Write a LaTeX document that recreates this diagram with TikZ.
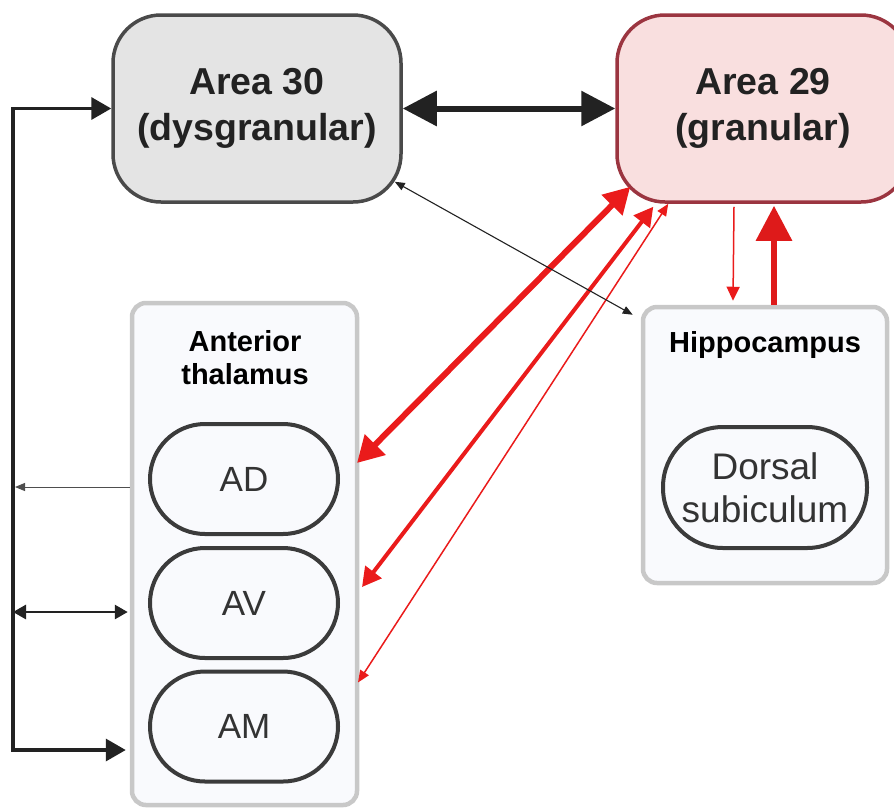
\documentclass[tikz,border=0pt]{standalone}
\usepackage{fontspec}
\setmainfont{Liberation Sans}
\usetikzlibrary{arrows.meta,calc}

\definecolor{grayfill}{HTML}{E4E4E4}
\definecolor{grayline}{HTML}{4A4A4A}
\definecolor{pinkfill}{HTML}{F9DFDF}
\definecolor{pinkline}{HTML}{9B3540}
\definecolor{boxfill}{HTML}{F9FAFD}
\definecolor{boxline}{HTML}{C8C8C8}
\definecolor{pillline}{HTML}{3B3B3B}
\definecolor{pilltext}{HTML}{333333}
\definecolor{ink}{HTML}{222222}
\definecolor{conred}{HTML}{EA1B1B}

\begin{document}
\begin{tikzpicture}[x=1pt,y=-1pt,
  area/.style={rounded corners=48pt, line width=3.5pt, align=center,
    text=ink, font=\fontsize{37.5}{46}\selectfont\bfseries,
    minimum height=187pt},
  group/.style={rounded corners=14pt, fill=boxfill, draw=boxline, line width=4.5pt},
  grouptitle/.style={align=center, text=black, font=\fontsize{29}{33}\selectfont\bfseries},
  pill/.style={draw=pillline, fill=boxfill, line width=4pt, text=pilltext,
    minimum width=188pt, minimum height=110pt, rounded corners=55pt,
    font=\fontsize{35}{43}\selectfont, align=center},
  bigpair/.style={draw=ink, line width=6pt,
    arrows={Triangle[length=34pt,width=34pt]-Triangle[length=34pt,width=34pt]}},
  spineline/.style={draw=ink, line width=3.5pt,
    arrows={Triangle[length=20pt,width=22pt]-Triangle[length=20pt,width=22pt]}},
  thinout/.style={draw=ink!80, line width=1pt, -{Triangle[length=10pt,width=8pt]}},
  pairmid/.style={draw=ink, line width=2.8pt,
    arrows={Triangle[length=13pt,width=14pt]-Triangle[length=13pt,width=14pt]}},
  pairthin/.style={draw=ink, line width=1.1pt,
    arrows={Triangle[length=10pt,width=8pt]-Triangle[length=10pt,width=8pt]}},
  redA/.style={draw=conred, line width=6pt,
    arrows={Triangle[length=26pt,width=28pt]-Triangle[length=26pt,width=28pt]}},
  redB/.style={draw=conred, line width=4pt,
    arrows={Triangle[length=19pt,width=20pt]-Triangle[length=19pt,width=20pt]}},
  redC/.style={draw=conred, line width=1.5pt,
    arrows={Triangle[length=12pt,width=10pt]-Triangle[length=12pt,width=10pt]}},
  reddown/.style={draw=conred, line width=1.5pt, -{Triangle[length=14pt,width=13pt]}},
  redup/.style={draw=conred!95!black, line width=6pt, -{Triangle[length=35pt,width=35pt]}}
]
\useasboundingbox (0,0) rectangle (894,807);
\clip (0,0) rectangle (894,807);

% cortical areas
\node[area, fill=grayfill, draw=grayline, minimum width=288pt] (a30) at (257,108.5)
  {Area 30\\(dysgranular)};
\node[area, fill=pinkfill, draw=pinkline, minimum width=292pt] (a29) at (763,108.5)
  {Area 29\\(granular)};

% anterior thalamus group
\node[group, minimum width=225pt, minimum height=502pt] (thal) at (244.5,554) {};
\node[grouptitle] (thaltitle) at (245,358) {Anterior\\thalamus};
\node[pill] (ad) at (244,479) {AD};
\node[pill] (av) at (244,603) {AV};
\node[pill] (am) at (244,726.5) {AM};

% hippocampus group
\node[group, minimum width=244pt, minimum height=276pt] (hip) at (765,445) {};
\node[grouptitle] (hiptitle) at (765,345) {Hippocampus};
\node[pill, minimum width=204pt, minimum height=121pt, rounded corners=60pt,
  font=\fontsize{37}{43}\selectfont] (ds) at (765,487.5) {Dorsal\\subiculum};

% left feedback spine
\coordinate (spine) at (13,750);
\draw[spineline] ($(spine -| thal.west)+(-4,0)$) -- (spine) |- (a30.west);
\draw[thinout] ($(thal.west |- ad)+(0,8)$) -- ($(spine |- ad)+(2,8)$);
\draw[pairmid] ($(spine |- av)+(0,9)$) -- ($(thal.west |- av)+(-2,9)$);

% area 30 <-> area 29
\draw[bigpair] (a30.east) -- (a29.west);

% area 29 <-> thalamic nuclei
\draw[redA] ($(a29.south west)+(15,-17)$) -- ($(ad.east)+(17,-16)$);
\draw[redB] ($(a29.south west)+(38,3)$) -- ($(av.east)+(22,-16)$);
\draw[redC] ($(a29.south west)+(53,0)$) -- ($(am.east)+(18,-44)$);

% area 29 <-> hippocampus
\draw[reddown] ($(a29.south)+(-29,3)$) -- ($(hip.north)+(-32,-4)$);
\draw[redup] ($(hip.north)+(9,0)$) -- ($(a29.south)+(11,2)$);

% area 30 <-> hippocampus
\draw[pairthin] ($(a30.south east)+(-8,-22)$) -- ($(hip.north west)+(-8,10)$);
\end{tikzpicture}
\end{document}
